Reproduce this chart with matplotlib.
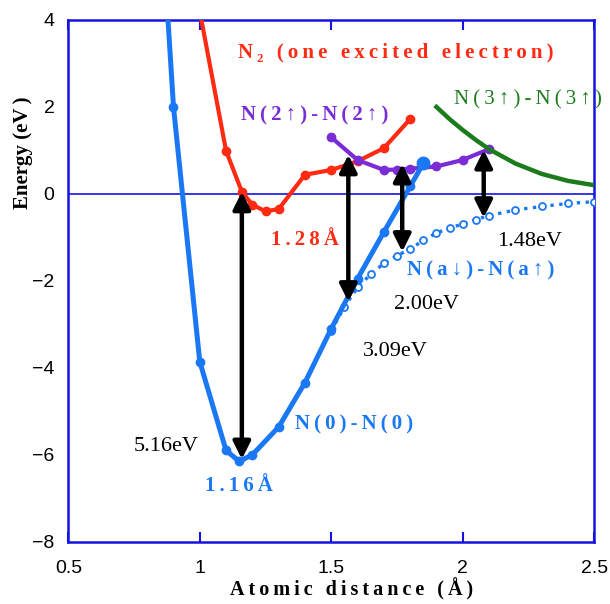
import matplotlib.pyplot as plt

# N(0)-N(0) curve
x_n0 = [0.85, 0.9, 1.0, 1.1, 1.15, 1.2, 1.3, 1.4, 1.5, 1.6, 1.7, 1.8, 1.85]
y_n0 = [6.8, 2.0, -3.86, -5.9, -6.15, -6.0, -5.36, -4.34, -3.1, -1.95, -0.88, 0.17, 0.7]

# N2 (one excited electron)
x_red = [1.0, 1.1, 1.16, 1.2, 1.25, 1.3, 1.4, 1.5, 1.6, 1.7, 1.8]
y_red = [4.2, 0.99, 0.05, -0.25, -0.4, -0.35, 0.44, 0.55, 0.75, 1.05, 1.72]

# N(2up)-N(2up)
x_pur = [1.5, 1.6, 1.7, 1.75, 1.8, 1.9, 2.0, 2.1]
y_pur = [1.3, 0.78, 0.55, 0.56, 0.58, 0.63, 0.78, 1.03]

# N(3up)-N(3up)
x_grn = [1.9, 1.95, 2.0, 2.05, 2.1, 2.2, 2.3, 2.4, 2.5]
y_grn = [2.0, 1.72, 1.47, 1.24, 1.03, 0.7, 0.46, 0.3, 0.2]

# N(a down)-N(a up)
x_a = [1.5, 1.55, 1.6, 1.65, 1.7, 1.75, 1.8, 1.85, 1.9, 1.95, 2.0, 2.05, 2.1,
       2.2, 2.3, 2.4, 2.5]
y_a = [-3.15, -2.6, -2.15, -1.85, -1.6, -1.42, -1.27, -1.07, -0.9, -0.79, -0.69,
       -0.59, -0.5, -0.37, -0.29, -0.22, -0.18]

# excitation arrows
arrow_x = [1.16, 1.565, 1.77, 2.08]
arrow_top = [0.05, 0.9, 0.69, 1.01]
arrow_bot = [-6.1, -2.48, -1.33, -0.55]
gap_labels = ["5.16eV", "3.09eV", "2.00eV", "1.48eV"]
gap_pos = [(0.872, -5.82), (1.743, -3.63), (1.861, -2.55), (2.253, -1.10)]

serif = ['Liberation Serif', 'DejaVu Serif']
sans = ['Liberation Sans', 'DejaVu Sans']

blue = '#1a78f5'
red = '#ff2a12'
purple = '#7a2cd6'
green = '#1c7c1c'
axblue = '#1414e0'

TS = '\u2009'


def spaced(s):
    # wide letter spacing like the original
    return TS.join(s)


fig = plt.figure(figsize=(6.1, 6.04), dpi=100)
ax = fig.add_axes([0.112, 0.103, 0.862, 0.864])

ax.axhline(0, color=axblue, lw=1.2, zorder=1)

ax.plot(x_red, y_red, '-o', color=red, lw=3, ms=6, zorder=3)
ax.plot(x_pur, y_pur, '-o', color=purple, lw=3, ms=6, zorder=3)
ax.plot(x_grn, y_grn, '-', color=green, lw=3.2, zorder=3)
ax.plot(x_a, y_a, ':o', color=blue, lw=2.4, ms=5, mfc='white', mew=1.3, zorder=4)
ax.plot(x_n0, y_n0, '-o', color=blue, lw=3.6, ms=6, zorder=5)
ax.plot(x_n0[-1], y_n0[-1], 'o', color=blue, ms=9, zorder=5)

for x, y0, y1 in zip(arrow_x, arrow_top, arrow_bot):
    ax.annotate('', xy=(x, y1), xytext=(x, y0),
                arrowprops=dict(arrowstyle='<|-|>', color='black', lw=3.2,
                                mutation_scale=26, shrinkA=0, shrinkB=0),
                zorder=6)

for t, (x, y) in zip(gap_labels, gap_pos):
    ax.text(x, y, t, ha='center', va='center', fontsize=16, family=serif)

ax.text(1.744, 3.26, spaced('N\u2082 (one excited electron)'), color=red,
        ha='center', va='center', fontsize=15, fontweight='bold', family=serif)
ax.text(1.436, 1.80, spaced('N(2\u2191)-N(2\u2191)'), color=purple, ha='center',
        va='center', fontsize=15, fontweight='bold', family=serif)
ax.text(2.25, 2.16, spaced('N(3\u2191)-N(3\u2191)'), color=green, ha='center',
        va='center', fontsize=15, family=serif, clip_on=False)
ax.text(2.067, -1.75, spaced('N(a\u2193)-N(a\u2191)'), color=blue, ha='center',
        va='center', fontsize=15, fontweight='bold', family=serif)
ax.text(1.585, -5.31, spaced('N(0)-N(0)'), color=blue, ha='center', va='center',
        fontsize=15, fontweight='bold', family=serif)
ax.text(1.40, -1.06, spaced('1.28\u00c5'), color=red, ha='center', va='center',
        fontsize=15, fontweight='bold', family=serif)
ax.text(1.15, -6.71, spaced('1.16\u00c5'), color=blue, ha='center', va='center',
        fontsize=15, fontweight='bold', family=serif)

ax.set_xlim(0.5, 2.5)
ax.set_ylim(-8, 4)
ax.set_xticks([0.5, 1, 1.5, 2, 2.5])
ax.set_xticklabels(['0.5', '1', '1.5', '2', '2.5'])
ax.set_yticks([4, 2, 0, -2, -4, -6, -8])
ax.set_yticklabels(['4', '2', '0', '\u22122', '\u22124', '\u22126', '\u22128'])
for lab in ax.get_xticklabels() + ax.get_yticklabels():
    lab.set_family(sans)
    lab.set_fontsize(14)
ax.tick_params(axis='x', direction='in', length=7, width=1.5, color=axblue,
               top=True, pad=13)
ax.tick_params(axis='y', length=0, pad=10)
for s in ax.spines.values():
    s.set_color(axblue)
    s.set_linewidth(1.8)

ax.set_xlabel(spaced('Atomic distance (\u00c5)'), fontsize=14.5,
              fontweight='bold', family=serif)
ax.xaxis.set_label_coords(0.538, -0.070)
ax.set_ylabel('Energy (eV' + TS + ')', fontsize=15, fontweight='bold',
              family=serif)
ax.yaxis.set_label_coords(-0.068, 0.745)

fig.savefig('out.png', dpi=100)
